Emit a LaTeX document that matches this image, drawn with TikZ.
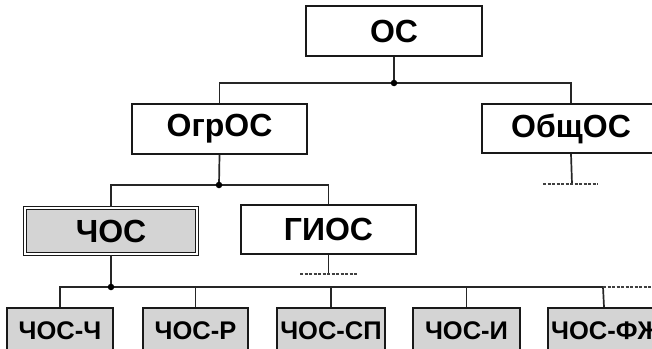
\documentclass[tikz,border=0pt]{standalone}
\usepackage{fontspec}
\setmainfont{Liberation Sans}
\begin{document}
\begin{tikzpicture}[x=1pt,y=-1pt,
  box/.style={draw=black!90, line width=2pt, fill=white, inner sep=0pt,
    font=\bfseries\fontsize{32}{32}\selectfont},
  gbox/.style={draw=black!90, line width=2pt, fill=black!17, inner sep=0pt,
    font=\bfseries\fontsize{25.5}{25.5}\selectfont},
  dbox/.style={draw=black!90, line width=1.6pt, double=white, double distance=1.4pt,
    fill=black!17, inner sep=0pt, font=\bfseries\fontsize{32}{32}\selectfont},
  conn/.style={draw=black!85, line width=1.7pt},
  dconn/.style={draw=black!75, line width=1.2pt, dash pattern=on 3pt off 1.5pt},
  dot/.style={circle, fill=black, inner sep=0pt, minimum size=6.5pt}]
\clip (0,0) rectangle (652,348);
\fill[white] (0,0) rectangle (652,348);
% boxes, top levels
\node[box, minimum width=176pt, minimum height=50pt] (oc) at (394,31) {ОС};
\node[box, minimum width=175pt, minimum height=50pt] (ogr) at (219.5,129) {ОгрОС};
\node[box, minimum width=178pt, minimum height=49pt] (obsh) at (571,128.5) {ОбщОС};
\node[dbox, minimum width=172pt, minimum height=46pt] (chos) at (111,231) {ЧОС};
\node[box, minimum width=175pt, minimum height=49pt] (gios) at (328.5,229.5) {ГИОС};
% bottom row
\node[gbox, minimum width=106pt, minimum height=46pt] (b1) at (60,331) {ЧОС-Ч};
\node[gbox, minimum width=105pt, minimum height=46pt] (b2) at (195.5,331) {ЧОС-Р};
\node[gbox, minimum width=108pt, minimum height=46pt] (b3) at (331,331) {ЧОС-СП};
\node[gbox, minimum width=107pt, minimum height=46pt] (b4) at (466.5,331) {ЧОС-И};
\node[gbox, minimum width=112pt, minimum height=46pt] (b5) at (604,331) {};
\node[anchor=west, inner sep=0pt, font=\bfseries\fontsize{25.5}{25.5}\selectfont] (b5t) at (551,331) {ЧОС-ФЖ};
% junction coordinates
\coordinate (j1) at (394,83);
\coordinate (j2) at (219,185);
\coordinate (j3) at (111,287);
\coordinate (o1) at (572,184);
\coordinate (o1a) at (543,184);
\coordinate (o1b) at (598,184);
\coordinate (g1) at (328.5,274);
\coordinate (g1a) at (300,274);
\coordinate (g1b) at (357,274);
\coordinate (r1) at (603,287);
\coordinate (r2) at (652,287);
% level 1
\draw[conn] (oc.south) -- (j1);
\draw[conn] (ogr.north) -- (ogr.north |- j1) -- (obsh.north |- j1) -- (obsh.north);
\draw[conn] (obsh.south) -- (o1);
\draw[dconn] (o1a) -- (o1b);
% level 2
\draw[conn] (ogr.south) -- (j2);
\draw[conn] (chos.north) -- (chos.north |- j2) -- (gios.north |- j2) -- (gios.north);
\draw[conn] (gios.south) -- (g1);
\draw[dconn] (g1a) -- (g1b);
% level 3
\draw[conn] (chos.south) -- (j3);
\draw[conn] (b1.north) -- (b1.north |- j3) -- (r1);
\draw[conn] (b2.north) -- (b2.north |- j3);
\draw[conn] (b3.north) -- (b3.north |- j3);
\draw[conn] (b4.north) -- (b4.north |- j3);
\draw[conn] (b5.north) -- (r1);
\draw[dconn] (r1) -- (r2);
\node[dot] at (j1) {};
\node[dot] at (j2) {};
\node[dot] at (j3) {};
\end{tikzpicture}
\end{document}
